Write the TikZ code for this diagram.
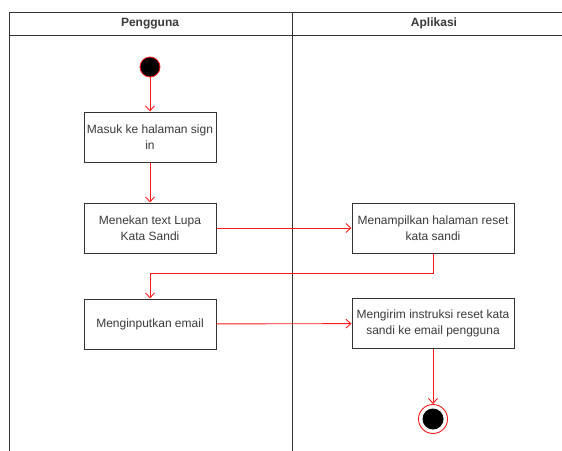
\documentclass[tikz,border=0pt]{standalone}
\usepackage{fontspec}
\setmainfont{Liberation Sans}
\usetikzlibrary{arrows.meta}
\definecolor{edge}{HTML}{333333}
\definecolor{txt}{HTML}{3A3A3A}
\definecolor{flow}{HTML}{FF1A1A}
\begin{document}
\begin{tikzpicture}[x=1pt,y=-1pt,
  lane/.style={draw=edge,line width=1pt},
  action/.style={draw=edge,line width=1pt,fill=white,minimum width=132pt,minimum height=50pt,
    align=center,font=\fontsize{12}{15.5}\selectfont,text=txt,inner sep=2pt},
  flowline/.style={draw=flow,line width=0.9pt,-{Straight Barb[length=5pt,width=9pt]}},
  header/.style={font=\bfseries\fontsize{12}{14}\selectfont,text=txt}]
\useasboundingbox (0,0) rectangle (562,450);
\clip (0,0) rectangle (562,450);
\fill[white] (0,0) rectangle (562,450);
% swimlanes
\draw[lane] (9,460) -- (9,12) -- (576,12) -- (576,460);
\draw[lane] (9,35) -- (576,35);
\draw[lane] (292,12) -- (292,460);
\node[header] (h1) at (150,23.5) {Pengguna};
\node[header] (h2) at (434,23.5) {Aplikasi};
% start and end states
\node[circle,fill=black,draw=flow,line width=0.8pt,minimum size=20pt,inner sep=0pt] (start) at (150,67) {};
\node[circle,draw=flow,line width=0.9pt,minimum size=29pt,inner sep=0pt] (endo) at (433,419) {};
\node[circle,fill=black,minimum size=21pt,inner sep=0pt] (endi) at (433,419) {};
% actions
\node[action] (a1) at (150,137) {Masuk ke halaman sign\\in};
\node[action] (a2) at (150,228) {Menekan text Lupa\\Kata Sandi};
\node[action,minimum width=162pt] (a3) at (433,228) {Menampilkan halaman reset\\kata sandi};
\node[action] (a4) at (150,324) {Menginputkan email};
\node[action,minimum width=162pt] (a5) at (433,323.5) {Mengirim instruksi reset kata\\sandi ke email pengguna};
% flows
\coordinate (r1) at (433,273);
\coordinate (r2) at (150,273);
\draw[flowline] (start) -- (a1);
\draw[flowline] (a1) -- (a2);
\draw[flowline] (a2) -- (a3);
\draw[flowline] (a3.south) -- (r1) -- (r2) -- (a4.north);
\draw[flowline] (a4) -- (a5);
\draw[flowline] (a5) -- (endo);
\end{tikzpicture}
\end{document}
